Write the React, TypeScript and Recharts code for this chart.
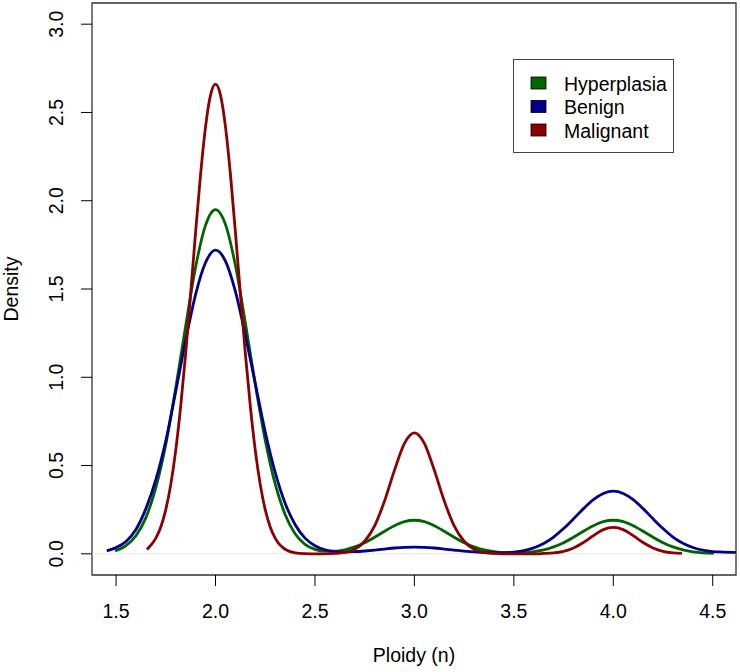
import { LineChart, Line, XAxis, YAxis, ReferenceArea, ReferenceLine, Legend } from 'recharts';

const FONT = '"Liberation Sans", Arial, Helvetica, sans-serif';
const FS = 19.5;

// tick marks and plot ranges (R style: 4% padding around the data range)
const X_TICKS = [1.5, 2, 2.5, 3, 3.5, 4, 4.5];
const Y_TICKS = [0, 0.5, 1, 1.5, 2, 2.5, 3];
const X_DOMAIN: [number, number] = [1.379, 4.617];
const Y_DOMAIN: [number, number] = [-0.12, 3.12];

const NAMES = ['Hyperplasia', 'Benign', 'Malignant'];
const COLORS = ['#006400', '#00008B', '#8B0000'];

// density curves, [ploidy, density]
const HYPERPLASIA: [number, number][] = [
  [1.495, 0.017], [1.55, 0.047], [1.6, 0.102], [1.65, 0.205], [1.7, 0.375],
  [1.75, 0.62], [1.8, 0.94], [1.85, 1.29], [1.9, 1.625], [1.95, 1.862],
  [2.0, 1.95], [2.05, 1.866], [2.1, 1.634], [2.15, 1.309], [2.2, 0.96],
  [2.25, 0.644], [2.3, 0.396], [2.35, 0.223], [2.4, 0.114], [2.45, 0.054],
  [2.5, 0.025], [2.55, 0.015], [2.6, 0.015], [2.65, 0.023], [2.7, 0.039],
  [2.75, 0.063], [2.8, 0.094], [2.85, 0.128], [2.9, 0.159], [2.95, 0.182],
  [3.0, 0.19], [3.05, 0.182], [3.1, 0.159], [3.15, 0.128], [3.2, 0.094],
  [3.25, 0.063], [3.3, 0.039], [3.35, 0.022], [3.4, 0.012], [3.45, 0.006],
  [3.5, 0.005], [3.55, 0.006], [3.6, 0.012], [3.65, 0.022], [3.7, 0.039],
  [3.75, 0.063], [3.8, 0.094], [3.85, 0.128], [3.9, 0.159], [3.95, 0.182],
  [4.0, 0.19], [4.05, 0.182], [4.1, 0.159], [4.15, 0.128], [4.2, 0.094],
  [4.25, 0.063], [4.3, 0.039], [4.35, 0.022], [4.4, 0.011], [4.45, 0.005],
  [4.505, 0.002],
];

const BENIGN: [number, number][] = [
  [1.453, 0.017], [1.5, 0.035], [1.55, 0.07], [1.6, 0.138], [1.65, 0.256],
  [1.7, 0.42], [1.75, 0.64], [1.8, 0.92], [1.85, 1.21], [1.9, 1.47],
  [1.95, 1.65], [2.0, 1.72], [2.05, 1.658], [2.1, 1.486], [2.15, 1.238],
  [2.2, 0.965], [2.25, 0.69], [2.3, 0.462], [2.35, 0.287], [2.4, 0.166],
  [2.45, 0.089], [2.5, 0.046], [2.55, 0.023], [2.6, 0.013], [2.65, 0.01],
  [2.7, 0.012], [2.75, 0.016], [2.8, 0.021], [2.85, 0.027], [2.9, 0.033],
  [2.95, 0.037], [3.0, 0.038], [3.05, 0.037], [3.1, 0.033], [3.15, 0.027],
  [3.2, 0.021], [3.25, 0.015], [3.3, 0.011], [3.35, 0.007], [3.4, 0.006],
  [3.45, 0.006], [3.5, 0.01], [3.55, 0.018], [3.6, 0.034], [3.65, 0.059],
  [3.7, 0.095], [3.75, 0.143], [3.8, 0.198], [3.85, 0.256], [3.9, 0.307],
  [3.95, 0.342], [4.0, 0.355], [4.05, 0.342], [4.1, 0.307], [4.15, 0.256],
  [4.2, 0.198], [4.25, 0.143], [4.3, 0.095], [4.35, 0.06], [4.4, 0.036],
  [4.45, 0.021], [4.5, 0.013], [4.55, 0.01], [4.6, 0.008], [4.65, 0.007],
];

const MALIGNANT: [number, number][] = [
  [1.655, 0.025], [1.675, 0.049], [1.7, 0.089], [1.725, 0.152], [1.75, 0.25],
  [1.775, 0.392], [1.8, 0.586], [1.825, 0.836], [1.85, 1.136], [1.875, 1.473],
  [1.9, 1.823], [1.925, 2.15], [1.95, 2.42], [1.975, 2.598], [2.0, 2.66],
  [2.025, 2.598], [2.05, 2.42], [2.075, 2.15], [2.1, 1.823], [2.125, 1.473],
  [2.15, 1.136], [2.175, 0.836], [2.2, 0.586], [2.225, 0.392], [2.25, 0.25],
  [2.275, 0.152], [2.3, 0.089], [2.325, 0.049], [2.35, 0.026], [2.4, 0.006],
  [2.45, 0.001], [2.5, 0], [2.55, 0], [2.6, 0.002], [2.65, 0.008],
  [2.7, 0.026], [2.75, 0.071], [2.8, 0.158], [2.85, 0.3], [2.9, 0.474],
  [2.95, 0.626], [3.0, 0.685], [3.05, 0.626], [3.1, 0.474], [3.15, 0.3],
  [3.2, 0.158], [3.25, 0.071], [3.3, 0.026], [3.35, 0.008], [3.4, 0.002],
  [3.45, 0], [3.5, 0], [3.55, 0], [3.6, 0], [3.65, 0.002],
  [3.7, 0.005], [3.75, 0.014], [3.8, 0.033], [3.85, 0.064], [3.9, 0.103],
  [3.95, 0.137], [4.0, 0.15], [4.05, 0.137], [4.1, 0.103], [4.15, 0.064],
  [4.2, 0.033], [4.25, 0.014], [4.3, 0.005], [4.345, 0.002],
];

const SERIES = [HYPERPLASIA, BENIGN, MALIGNANT].map((pts) => pts.map(([x, y]) => ({ x, y })));

function YTick({ x, y, payload }: any) {
  return (
    <text
      x={x}
      y={y}
      transform={`rotate(-90 ${x} ${y})`}
      textAnchor="middle"
      fontSize={FS}
      fontFamily={FONT}
      fill="#000"
    >
      {Number(payload.value).toFixed(1)}
    </text>
  );
}

function LegendBox() {
  return (
    <svg width={161} height={94} style={{ display: 'block' }}>
      <rect x={0.5} y={0.5} width={160} height={93} fill="#fff" stroke="#444" />
      {NAMES.map((name, i) => (
        <g key={name}>
          <rect x={18} y={18 + i * 23.5} width={15} height={12} fill={COLORS[i]} stroke="#000" strokeWidth={0.8} />
          <text x={51} y={31.5 + i * 23.5} fontSize={FS} fontFamily={FONT} fill="#000">
            {name}
          </text>
        </g>
      ))}
    </svg>
  );
}

export default function App() {
  return (
    <div style={{ position: 'absolute', left: 0, top: 0, background: '#fff' }}>
      <LineChart width={740} height={672} margin={{ top: 3, right: 4, bottom: 0, left: 0 }}>
        <XAxis
          type="number"
          dataKey="x"
          domain={X_DOMAIN}
          ticks={X_TICKS}
          allowDataOverflow
          tickFormatter={(v: number) => v.toFixed(1)}
          axisLine={false}
          tickSize={11}
          tickMargin={18}
          tickLine={{ stroke: '#000' }}
          tick={{ fill: '#000', fontSize: FS, fontFamily: FONT }}
          height={97}
          label={{
            content: ({ viewBox }: any) => (
              <text
                x={viewBox.x + viewBox.width / 2}
                y={viewBox.y + 86.5}
                textAnchor="middle"
                fontSize={FS}
                fontFamily={FONT}
                fill="#000"
              >
                Ploidy (n)
              </text>
            ),
          }}
        />
        <YAxis
          type="number"
          domain={Y_DOMAIN}
          ticks={Y_TICKS}
          allowDataOverflow
          axisLine={false}
          tickSize={11}
          tickMargin={18}
          tickLine={{ stroke: '#000' }}
          tick={<YTick />}
          width={92}
          label={{
            content: ({ viewBox }: any) => {
              const lx = viewBox.x + 17.5;
              const ly = viewBox.y + viewBox.height / 2;
              return (
                <text
                  x={lx}
                  y={ly}
                  transform={`rotate(-90 ${lx} ${ly})`}
                  textAnchor="middle"
                  fontSize={FS}
                  fontFamily={FONT}
                  fill="#000"
                >
                  Density
                </text>
              );
            },
          }}
        />
        <ReferenceLine y={0} stroke="#e6e6e6" strokeWidth={1} />
        {SERIES.map((data, i) => (
          <Line
            key={NAMES[i]}
            data={data}
            dataKey="y"
            name={NAMES[i]}
            type="monotone"
            stroke={COLORS[i]}
            strokeWidth={2.8}
            dot={false}
            activeDot={false}
            isAnimationActive={false}
          />
        ))}
        <ReferenceArea
          x1={X_DOMAIN[0]}
          x2={X_DOMAIN[1]}
          y1={Y_DOMAIN[0]}
          y2={Y_DOMAIN[1]}
          fill="none"
          stroke="#333"
          strokeWidth={1.3}
        />
        <Legend
          layout="vertical"
          align="center"
          verticalAlign="middle"
          content={() => <LegendBox />}
          wrapperStyle={{ left: 513, top: 59, width: 161, height: 94 }}
        />
      </LineChart>
    </div>
  );
}
